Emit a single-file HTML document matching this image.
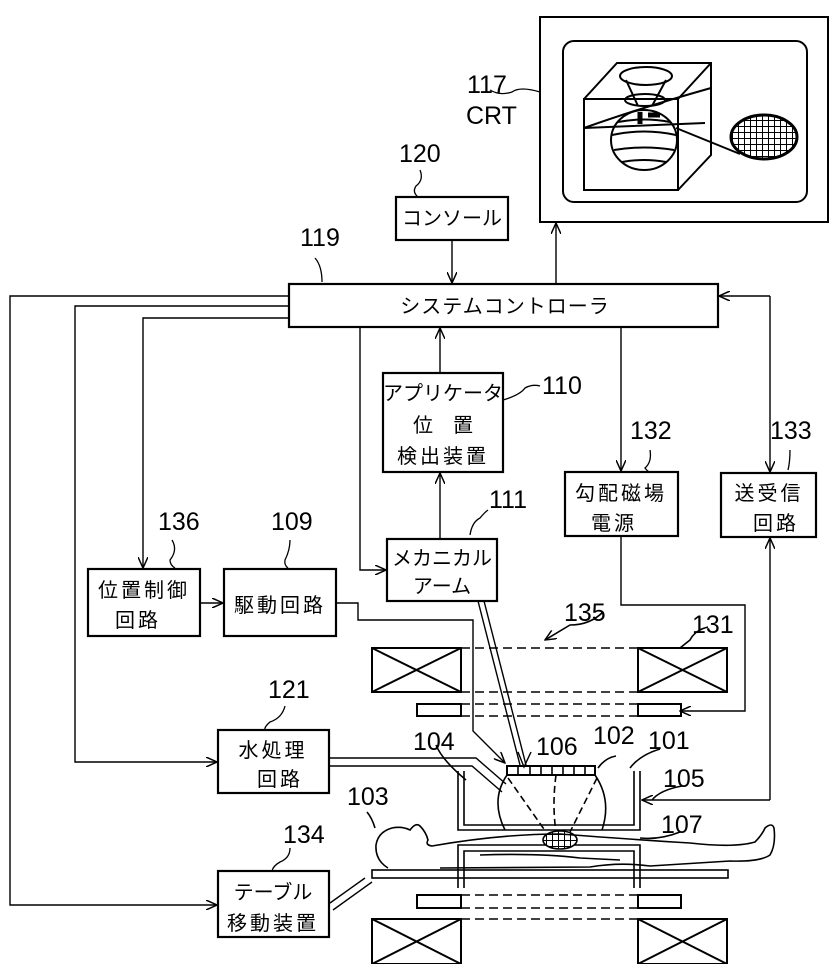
<!DOCTYPE html>
<html><head><meta charset="utf-8"><style>
html,body{margin:0;padding:0;background:#fff;}
svg{display:block;}
.t{font-family:"Liberation Sans","Noto Sans CJK JP",sans-serif;fill:#000;}
.j{font-size:20px;}
.n{font-size:25px;font-family:"Liberation Sans Narrow","Liberation Sans",sans-serif;}
</style></head><body>
<svg width="836" height="964" viewBox="0 0 836 964" xmlns="http://www.w3.org/2000/svg">
<defs>
<marker id="a" markerWidth="12" markerHeight="10" refX="11" refY="5" orient="auto" markerUnits="userSpaceOnUse">
<path d="M0,0 L11,5 L0,10" fill="none" stroke="#000" stroke-width="1.5"/></marker>
<pattern id="g" width="6" height="6" patternUnits="userSpaceOnUse"><rect width="6" height="6" fill="#fff"/><path d="M0,0H6M0,0V6" stroke="#000" stroke-width="2"/></pattern>
</defs>
<g fill="none" stroke="#000" stroke-width="2">
<rect x="540" y="17" width="288" height="205"/>
<rect x="563" y="41" width="244" height="161" rx="11"/>
<rect x="584" y="99" width="94" height="91"/>
<path d="M584,99 L617,63 L711,63 L711,155 L678,190 M678,99 L711,63"/>
<ellipse cx="646" cy="76" rx="26" ry="9"/>
<ellipse cx="645" cy="100" rx="20" ry="6"/>
<path d="M626,80 L638,106 M666,80 L652,106"/>
<ellipse cx="644" cy="140" rx="33" ry="30"/>
<path d="M612,135 Q644,128 676,135 M614,150 Q644,145 674,150 M622,162 Q644,158 666,162 M618,122 Q644,117 670,122"/>
<path d="M584,128 Q640,108 711,88 M584,128 L705,123 M676,128 L740,154"/>
<ellipse cx="764" cy="137" rx="33" ry="22" fill="url(#g)" stroke-width="3"/>
<path d="M640,112 v12 M648,115 h12" stroke-width="5"/>
</g>
<g fill="none" stroke="#000" stroke-width="1.3">
<path d="M540,92 Q520,86 512,92 Q500,96 490,90"/>
<path d="M420,170 Q424,180 416,186 Q412,192 418,197" />
<path d="M315,258 Q322,266 322,282"/>
<path d="M503,400 Q520,395 525,388 Q532,384 540,386"/>
<path d="M470,535 Q472,522 480,518 Q485,512 488,510"/>
<path d="M650,450 Q652,462 645,468 Q648,472 650,472"/>
<path d="M790,450 Q790,462 788,470"/>
<path d="M172,540 Q178,550 170,560 Q170,565 175,568"/>
<path d="M290,540 Q290,550 285,560 Q284,565 288,568"/>
<path d="M285,706 Q282,718 270,722 Q264,727 265,730"/>
<path d="M290,848 Q290,858 280,862 Q273,866 272,871"/>
</g>
<g fill="none" stroke="#000" stroke-width="2.2">
<rect x="289" y="284" width="429" height="43"/>
<rect x="396" y="197" width="112" height="43"/>
<rect x="383" y="373" width="120" height="99"/>
<rect x="387" y="539" width="110" height="62"/>
<rect x="565" y="472" width="113" height="64"/>
<rect x="721" y="473" width="95" height="64"/>
<rect x="88" y="569" width="112" height="67"/>
<rect x="224" y="569" width="112" height="67"/>
<rect x="218" y="730" width="111" height="63"/>
<rect x="218" y="871" width="111" height="66"/>
</g>
<g fill="none" stroke="#000" stroke-width="1.4">
<path d="M289,296 H10 V905 H217" marker-end="url(#a)"/>
<path d="M289,306 H75 V762 H217" marker-end="url(#a)"/>
<path d="M289,318 H143 V568" marker-end="url(#a)"/>
<path d="M200,603 H223" marker-end="url(#a)"/>
<path d="M360,327 V570 H386" marker-end="url(#a)"/>
<path d="M440,539 V473" marker-end="url(#a)"/>
<path d="M440,373 V328" marker-end="url(#a)"/>
<path d="M452,240 V283" marker-end="url(#a)"/>
<path d="M556,284 V223" marker-end="url(#a)"/>
<path d="M621,327 V471" marker-end="url(#a)"/>
<path d="M770,296 H719" marker-end="url(#a)"/>
<path d="M770,296 V472" marker-end="url(#a)"/>
<path d="M770,800 V538" marker-end="url(#a)"/>
<path d="M770,800 H642" marker-end="url(#a)"/>
<path d="M621,537 V605 H745 V711 H680" marker-end="url(#a)"/>
<path d="M336,603 H358 V620 H473 V731 L505,763" marker-end="url(#a)"/>
<path d="M478,601 L520,765 M484,601 L526,765"/>
<path d="M518,752 L524,767 L531,752"/>
<path d="M330,758 H476 L506,784 M330,766 H472 L502,792"/>
<path d="M330,903 L365,878 M333,910 L372,882"/>
</g>
<g fill="none" stroke="#000" stroke-width="2">
<rect x="372" y="648" width="89" height="44"/><path d="M372,648 L461,692 M461,648 L372,692"/>
<rect x="638" y="648" width="89" height="44"/><path d="M638,648 L727,692 M727,648 L638,692"/>
<rect x="417" y="704" width="44" height="12"/><rect x="638" y="704" width="43" height="12"/>
<rect x="417" y="895" width="44" height="13"/><rect x="638" y="895" width="43" height="13"/>
<rect x="372" y="919" width="89" height="45"/><path d="M372,919 L461,964 M461,919 L372,964"/>
<rect x="638" y="919" width="89" height="45"/><path d="M638,919 L727,964 M727,919 L638,964"/>
</g>
<g fill="none" stroke="#000" stroke-width="1.6" stroke-dasharray="9,5">
<path d="M461,648 H638 M461,692 H638 M461,704 H638 M461,716 H638 M461,895 H638 M461,908 H638 M461,919 H638"/>
</g>
<g fill="none" stroke="#000" stroke-width="1.6">
<path d="M458,771 V830 H640 V771 M464,771 V825 H634 V771"/>
<path d="M458,888 V845 H640 V888 M464,888 V851 H634 V888"/>
<rect x="507" y="766" width="88" height="9" stroke-width="2"/>
<path d="M518,766v9 M530,766v9 M541,766v9 M552,766v9 M563,766v9 M574,766v9 M585,766v9"/>
<path d="M507,775 Q490,800 505,830 M595,775 Q612,800 602,830"/>
<path d="M508,778 L546,832 M597,778 L570,832 M556,775 Q552,805 556,832" stroke-dasharray="7,4"/>
<ellipse cx="560" cy="840" rx="17" ry="9" fill="url(#g)"/>
<rect x="372" y="870" width="356" height="8"/>
<path d="M388,868 Q375,860 376,845 Q378,832 392,828 Q402,826 410,830 Q416,822 420,826 Q426,832 428,840 Q425,845 432,846 Q500,834 560,834 Q640,840 690,843 Q735,848 755,842 Q762,835 765,828 Q772,822 774,828 Q776,845 770,855 Q760,862 730,861 L650,866 Q620,862 590,867 L440,868"/>
<path d="M480,855 Q540,853 580,858 L620,860"/>
<path d="M367,812 Q372,818 375,828 M436,745 Q442,760 466,780 M616,756 Q605,758 598,768 M660,749 Q640,755 630,768 M682,786 Q660,790 652,800 M680,832 Q660,840 640,838"/>
<path d="M603,612 Q590,625 570,625 L545,640" marker-end="url(#a)"/>
<path d="M708,627 Q695,630 690,640 L680,648"/>
</g>
<g class="t j">
<text x="505" y="313" text-anchor="middle" letter-spacing="1">システムコントローラ</text>
<text x="452" y="225" text-anchor="middle">コンソール</text>
<text x="443" y="400" text-anchor="middle">アプリケータ</text>
<text x="443" y="432" text-anchor="middle">位　置</text>
<text x="443" y="463" text-anchor="middle" letter-spacing="3">検出装置</text>
<text x="442" y="565" text-anchor="middle">メカニカル</text>
<text x="442" y="593" text-anchor="middle">アーム</text>
<text x="621" y="500" text-anchor="middle" letter-spacing="3">勾配磁場</text>
<text x="614" y="530" text-anchor="middle" letter-spacing="3">電源</text>
<text x="769" y="500" text-anchor="middle" letter-spacing="3">送受信</text>
<text x="776" y="530" text-anchor="middle" letter-spacing="3">回路</text>
<text x="144" y="597" text-anchor="middle" letter-spacing="3">位置制御</text>
<text x="138" y="627" text-anchor="middle" letter-spacing="3">回路</text>
<text x="280" y="612" text-anchor="middle" letter-spacing="3">駆動回路</text>
<text x="273" y="757" text-anchor="middle" letter-spacing="3">水処理</text>
<text x="280" y="786" text-anchor="middle" letter-spacing="3">回路</text>
<text x="273" y="899" text-anchor="middle">テーブル</text>
<text x="273" y="930" text-anchor="middle" letter-spacing="3">移動装置</text>
</g>
<g class="t n">
<text x="467" y="93">117</text>
<text x="466" y="124">CRT</text>
<text x="399" y="162">120</text>
<text x="300" y="246">119</text>
<text x="542" y="394">110</text>
<text x="630" y="439">132</text>
<text x="770" y="439">133</text>
<text x="489" y="508">111</text>
<text x="158" y="530">136</text>
<text x="271" y="530">109</text>
<text x="564" y="621">135</text>
<text x="692" y="633">131</text>
<text x="268" y="698">121</text>
<text x="413" y="750">104</text>
<text x="536" y="755">106</text>
<text x="593" y="744">102</text>
<text x="648" y="749">101</text>
<text x="663" y="787">105</text>
<text x="347" y="805">103</text>
<text x="661" y="833">107</text>
<text x="283" y="843">134</text>
</g>
</svg>
</body></html>
